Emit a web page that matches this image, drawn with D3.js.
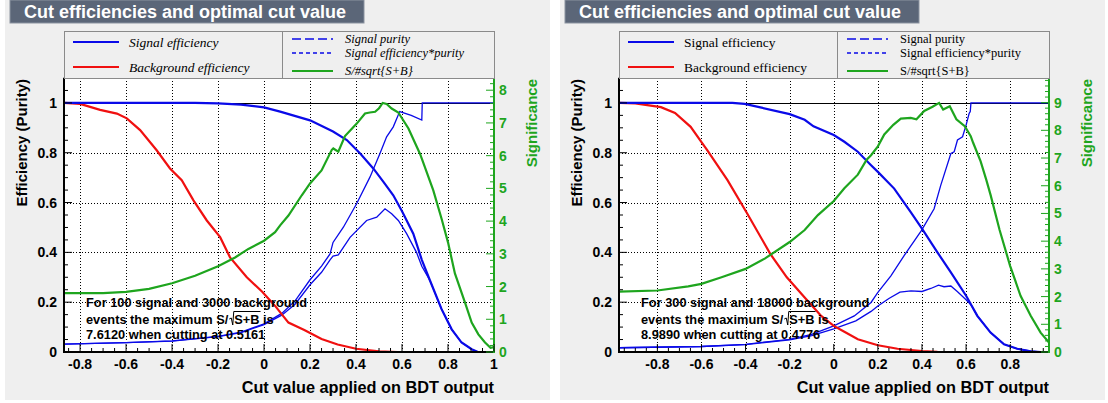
<!DOCTYPE html>
<html><head><meta charset="utf-8">
<script src="https://cdn.jsdelivr.net/npm/d3@7"></script>
<style>body{margin:0;background:#fff;} svg{display:block;}</style>
</head><body>
<svg id="c" width="1108" height="403"></svg>
<script>
// ---------- texts ----------
const titleText = "Cut efficiencies and optimal cut value";
const xTitle = "Cut value applied on BDT output";
const yTitle = "Efficiency (Purity)";
const y2Title = "Significance";
const legendLeftLabels = ["Signal efficiency", "Background efficiency"];
const legendRightLabels = ["Signal purity", "Signal efficiency*purity", "S/#sqrt{S+B}"];

// ---------- ticks ----------
const leftXTicks = [-0.8, -0.6, -0.4, -0.2, 0, 0.2, 0.4, 0.6, 0.8, 1];
const rightXTicks = [-0.8, -0.6, -0.4, -0.2, 0, 0.2, 0.4, 0.6, 0.8];
const yTicks = [0, 0.2, 0.4, 0.6, 0.8, 1];
const leftSigTicks = [0, 1, 2, 3, 4, 5, 6, 7, 8];
const rightSigTicks = [0, 1, 2, 3, 4, 5, 6, 7, 8, 9];

// ---------- left panel data (100 signal, 3000 background) ----------
const leftXRange = [-0.87, 1.0];
const leftSigMax = 7.612;
const leftInfo = ["For 100 signal and 3000 background", "events the maximum S/", "S+B is", "7.6120 when cutting at 0.5161"];
const leftSignalEff = [[-0.87,1],[-0.3,1],[-0.2,0.998],[-0.1,0.993],[0,0.982],[0.07,0.965],[0.2,0.93],[0.3,0.885],[0.36,0.851],[0.42,0.795],[0.475,0.737],[0.52,0.682],[0.562,0.629],[0.6,0.565],[0.649,0.475],[0.686,0.37],[0.722,0.286],[0.772,0.172],[0.816,0.091],[0.859,0.038],[0.903,0.011],[0.93,0],[0.957,0]];
const leftBkgEff = [[-0.87,1],[-0.8,0.996],[-0.713,0.972],[-0.64,0.957],[-0.597,0.938],[-0.539,0.891],[-0.467,0.81],[-0.409,0.737],[-0.358,0.69],[-0.307,0.609],[-0.249,0.528],[-0.191,0.461],[-0.148,0.38],[-0.075,0.3],[-0.008,0.242],[0.048,0.185],[0.106,0.118],[0.175,0.088],[0.25,0.052],[0.32,0.03],[0.4,0.013],[0.5,0.003],[0.58,0],[0.686,0]];
const leftPurity = [[-0.87,0.032],[-0.6,0.038],[-0.4,0.045],[-0.2,0.063],[-0.1,0.08],[0,0.113],[0.077,0.155],[0.135,0.205],[0.2,0.29],[0.25,0.345],[0.287,0.394],[0.3,0.44],[0.345,0.501],[0.403,0.596],[0.461,0.703],[0.504,0.797],[0.533,0.864],[0.562,0.904],[0.584,0.952],[0.59,0.965],[0.64,0.95],[0.686,0.931],[0.688,1],[1,1]];
const leftEffPurity = [[-0.87,0.032],[-0.6,0.038],[-0.4,0.044],[-0.2,0.062],[-0.1,0.078],[0,0.11],[0.077,0.148],[0.135,0.192],[0.2,0.27],[0.25,0.32],[0.287,0.37],[0.3,0.385],[0.323,0.39],[0.374,0.46],[0.446,0.528],[0.49,0.541],[0.526,0.575],[0.555,0.555],[0.584,0.528],[0.62,0.475],[0.663,0.4],[0.686,0.344],[0.722,0.286],[0.772,0.172],[0.816,0.091],[0.859,0.038],[0.903,0.011],[0.93,0]];
const leftSignificance = [[-0.87,1.80],[-0.7,1.80],[-0.6,1.84],[-0.5,1.93],[-0.4,2.10],[-0.3,2.33],[-0.2,2.62],[-0.126,2.89],[-0.068,3.15],[0,3.40],[0.048,3.66],[0.07,3.87],[0.106,4.17],[0.164,4.79],[0.2,5.15],[0.25,5.55],[0.294,6.17],[0.301,6.22],[0.323,6.12],[0.352,6.6],[0.403,6.98],[0.439,7.29],[0.46,7.32],[0.483,7.34],[0.5,7.45],[0.516,7.61],[0.533,7.58],[0.555,7.44],[0.584,7.32],[0.628,6.83],[0.678,6.06],[0.686,5.91],[0.736,4.94],[0.772,4.07],[0.8,3.35],[0.83,2.4],[0.874,1.51],[0.903,0.90],[0.932,0.54],[0.961,0.29],[0.985,0.13],[1.0,0.15]];

// ---------- right panel data (300 signal, 18000 background) ----------
const rightXRange = [-0.974, 0.976];
const rightSigMax = 8.989;
const rightInfo = ["For 300 signal and 18000 background", "events the maximum S/", "S+B is", "8.9890 when cutting at 0.4776"];
const rightSignalEff = [[-0.974,1],[-0.46,1],[-0.404,0.996],[-0.333,0.982],[-0.2,0.955],[-0.132,0.932],[-0.092,0.906],[0,0.871],[0.048,0.844],[0.109,0.804],[0.169,0.75],[0.2,0.723],[0.274,0.656],[0.349,0.562],[0.4,0.495],[0.47,0.40],[0.531,0.32],[0.6,0.226],[0.651,0.145],[0.711,0.078],[0.772,0.031],[0.832,0.013],[0.893,0.003],[0.938,0],[0.955,0]];
const rightBkgEff = [[-0.974,1],[-0.9,0.998],[-0.784,0.983],[-0.72,0.96],[-0.649,0.904],[-0.6,0.843],[-0.574,0.81],[-0.482,0.69],[-0.392,0.555],[-0.288,0.394],[-0.213,0.30],[-0.132,0.219],[-0.057,0.145],[0,0.105],[0.048,0.081],[0.109,0.051],[0.2,0.027],[0.289,0.013],[0.4,0.004],[0.47,0.001],[0.6,0]];
const rightPurity = [[-0.974,0.017],[-0.6,0.022],[-0.4,0.031],[-0.2,0.051],[-0.1,0.071],[0,0.105],[0.093,0.145],[0.169,0.199],[0.2,0.239],[0.259,0.306],[0.319,0.387],[0.398,0.488],[0.455,0.575],[0.485,0.669],[0.531,0.797],[0.546,0.804],[0.561,0.851],[0.584,0.864],[0.6,0.911],[0.614,0.958],[0.619,0.965],[0.622,1],[0.976,1]];
const rightEffPurity = [[-0.974,0.017],[-0.6,0.022],[-0.4,0.03],[-0.2,0.049],[-0.1,0.066],[0,0.093],[0.1,0.125],[0.169,0.163],[0.2,0.185],[0.25,0.215],[0.3,0.24],[0.35,0.245],[0.4,0.243],[0.44,0.255],[0.475,0.268],[0.5,0.262],[0.531,0.265],[0.56,0.243],[0.6,0.21],[0.622,0.19],[0.651,0.145],[0.711,0.078],[0.772,0.031],[0.832,0.013],[0.893,0.003],[0.938,0]];
const rightSignificance = [[-0.974,2.18],[-0.8,2.22],[-0.66,2.37],[-0.6,2.46],[-0.509,2.70],[-0.4,3.0],[-0.313,3.37],[-0.2,3.97],[-0.132,4.40],[-0.072,4.94],[0,5.45],[0.048,5.91],[0.109,6.40],[0.149,6.94],[0.169,7.1],[0.2,7.42],[0.229,7.85],[0.27,8.2],[0.304,8.42],[0.349,8.45],[0.375,8.40],[0.41,8.70],[0.448,8.85],[0.4776,8.99],[0.496,8.75],[0.526,8.87],[0.556,8.40],[0.594,8.15],[0.621,7.79],[0.632,7.55],[0.666,6.88],[0.692,6.2],[0.711,5.67],[0.752,4.4],[0.8,3.1],[0.847,2.03],[0.893,1.31],[0.938,0.70],[0.976,0.34]];

// ---------- style ----------
const COL = { blue: "#0a0ae8", red: "#f01010", green: "#1ea51e", panel: "#efefef", title: "#5b6678" };
const SANS = "'Liberation Sans', Arial, Helvetica, sans-serif";
const SERIF = "'Liberation Serif', 'Times New Roman', serif";

const svg = d3.select("#c");

function drawPanel(cfg) {
  const px = cfg.px;
  const g = svg.append("g");
  g.append("rect").attr("x", px).attr("y", 0).attr("width", 545).attr("height", 400).attr("fill", COL.panel);

  // title box
  g.append("rect").attr("x", px + 5).attr("y", 0).attr("width", 354).attr("height", 23)
    .attr("fill", COL.title).attr("stroke", "#8b93a0").attr("stroke-width", 1);
  g.append("text").attr("x", px + 19).attr("y", 18).attr("fill", "#fff")
    .attr("font-family", SANS).attr("font-weight", "bold").attr("font-size", 18).text(titleText);

  const fx0 = px + 59, fx1 = px + 489, fy0 = 78, fy1 = 352;
  const x = d3.scaleLinear().domain(cfg.xRange).range([fx0, fx1]);
  const y = d3.scaleLinear().domain([0, 1.1]).range([fy1, fy0]);
  const y2 = d3.scaleLinear().domain([0, 1.1 * cfg.sigMax]).range([fy1, fy0]);

  // frame
  g.append("rect").attr("x", fx0).attr("y", fy0).attr("width", fx1 - fx0).attr("height", fy1 - fy0)
    .attr("fill", "#fff").attr("stroke", "#000").attr("stroke-width", 1);

  // grid
  const gridStyle = sel => sel.attr("stroke", "#000").attr("stroke-width", 1).attr("stroke-dasharray", "1,2");
  g.append("g").selectAll("line").data(cfg.xTicks.filter(t => x(t) > fx0 + 2 && x(t) < fx1 - 2)).join("line")
    .attr("x1", d => Math.round(x(d)) + 0.5).attr("x2", d => Math.round(x(d)) + 0.5).attr("y1", fy0).attr("y2", fy1).call(gridStyle);
  g.append("g").selectAll("line").data(yTicks.filter(t => t > 0 && t < 1)).join("line")
    .attr("y1", d => Math.round(y(d)) + 0.5).attr("y2", d => Math.round(y(d)) + 0.5).attr("x1", fx0).attr("x2", fx1).call(gridStyle);
  // line at 1
  g.append("line").attr("x1", fx0).attr("x2", fx1).attr("y1", Math.round(y(1)) + 0.5).attr("y2", Math.round(y(1)) + 0.5)
    .attr("stroke", "#000").attr("stroke-width", 1);

  // curves
  const clipId = "clip" + px;
  svg.append("clipPath").attr("id", clipId).append("rect").attr("x", fx0).attr("y", fy0).attr("width", fx1 - fx0).attr("height", fy1 - fy0);
  const cg = g.append("g").attr("clip-path", `url(#${clipId})`);
  const ln = d3.line().x(d => x(d[0])).y(d => y(d[1]));
  const ln2 = d3.line().x(d => x(d[0])).y(d => y2(d[1]));
  cg.append("path").attr("d", ln(cfg.purity)).attr("fill", "none").attr("stroke", COL.blue).attr("stroke-width", 1.3);
  cg.append("path").attr("d", ln(cfg.effPurity)).attr("fill", "none").attr("stroke", COL.blue).attr("stroke-width", 1.3);
  cg.append("path").attr("d", ln(cfg.bkgEff)).attr("fill", "none").attr("stroke", COL.red).attr("stroke-width", 2.2);
  cg.append("path").attr("d", ln(cfg.signalEff)).attr("fill", "none").attr("stroke", COL.blue).attr("stroke-width", 2.2);
  cg.append("path").attr("d", ln2(cfg.significance)).attr("fill", "none").attr("stroke", COL.green).attr("stroke-width", 2.2);

  // axes lines
  g.append("line").attr("x1", fx0).attr("x2", fx0).attr("y1", fy0).attr("y2", fy1 + 1).attr("stroke", "#000").attr("stroke-width", 2);
  g.append("line").attr("x1", fx0 - 1).attr("x2", fx1).attr("y1", fy1).attr("y2", fy1).attr("stroke", "#000").attr("stroke-width", 2);
  g.append("line").attr("x1", fx1).attr("x2", fx1).attr("y1", fy0).attr("y2", fy1 + 1).attr("stroke", COL.green).attr("stroke-width", 2);

  // ticks: x
  const xMinor = d3.range(-20, 21).map(i => i * 0.05).filter(v => v >= cfg.xRange[0] && v <= cfg.xRange[1]);
  g.append("g").selectAll("line").data(xMinor).join("line")
    .attr("x1", d => x(d)).attr("x2", d => x(d)).attr("y1", fy1)
    .attr("y2", d => fy1 - (Math.abs(Math.round(d * 5) - d * 5) < 1e-6 ? 8 : 4))
    .attr("stroke", "#000").attr("stroke-width", 1);
  // ticks: y
  const yMinor = d3.range(0, 23).map(i => i * 0.05);
  g.append("g").selectAll("line").data(yMinor).join("line")
    .attr("y1", d => y(d)).attr("y2", d => y(d)).attr("x1", fx0)
    .attr("x2", d => fx0 + (Math.abs(Math.round(d * 5) - d * 5) < 1e-6 ? 8 : 4))
    .attr("stroke", "#000").attr("stroke-width", 1);
  // ticks: y2
  const y2Minor = d3.range(0, Math.floor(1.1 * cfg.sigMax / 0.2) + 1).map(i => i * 0.2);
  g.append("g").selectAll("line").data(y2Minor).join("line")
    .attr("y1", d => y2(d)).attr("y2", d => y2(d)).attr("x2", fx1)
    .attr("x1", d => fx1 - (Math.abs(Math.round(d) - d) < 1e-6 ? 8 : 4))
    .attr("stroke", COL.green).attr("stroke-width", 1);

  // tick labels
  g.append("g").selectAll("text").data(cfg.xTicks).join("text")
    .attr("x", d => x(d)).attr("y", fy1 + 17).attr("text-anchor", "middle")
    .attr("font-family", SANS).attr("font-weight", "bold").attr("font-size", 14).attr("fill", "#000")
    .text(d => String(+d.toFixed(1)));
  g.append("g").selectAll("text").data(yTicks).join("text")
    .attr("x", fx0 - 7).attr("y", d => y(d) + 5).attr("text-anchor", "end")
    .attr("font-family", SANS).attr("font-weight", "bold").attr("font-size", 14).attr("fill", "#000")
    .text(d => String(+d.toFixed(1)));
  g.append("g").selectAll("text").data(cfg.sigTicks).join("text")
    .attr("x", fx1 + 5).attr("y", d => y2(d) + 5).attr("text-anchor", "start")
    .attr("font-family", SANS).attr("font-weight", "bold").attr("font-size", 14).attr("fill", COL.green)
    .text(d => String(d));

  // axis titles
  g.append("text").attr("x", fx1).attr("y", 393).attr("text-anchor", "end")
    .attr("font-family", SANS).attr("font-weight", "bold").attr("font-size", 16.3).text(xTitle);
  g.append("text").attr("transform", `translate(${px + 17},${fy0 + 1}) rotate(-90)`).attr("text-anchor", "end")
    .attr("dy", "0.35em")
    .attr("font-family", SANS).attr("font-weight", "bold").attr("font-size", 15).text(yTitle);
  g.append("text").attr("transform", `translate(${px + 527},${fy0 + 1}) rotate(-90)`).attr("text-anchor", "end")
    .attr("dy", "0.35em").attr("fill", COL.green)
    .attr("font-family", SANS).attr("font-weight", "bold").attr("font-size", 15).text(y2Title);

  // legend
  const ly0 = 31;
  const lxm = px + 277;
  g.append("rect").attr("x", fx0 + 0.5).attr("y", ly0 + 0.5).attr("width", lxm - fx0).attr("height", fy0 - ly0)
    .attr("fill", COL.panel).attr("stroke", "#8a8a8a").attr("stroke-width", 1);
  g.append("rect").attr("x", lxm + 0.5).attr("y", ly0 + 0.5).attr("width", fx1 - lxm).attr("height", fy0 - ly0)
    .attr("fill", COL.panel).attr("stroke", "#8a8a8a").attr("stroke-width", 1);
  const style = cfg.italic ? "italic" : "normal";
  const leftEntries = [
    { label: legendLeftLabels[0], y: 42, color: COL.blue, dash: null, w: 2.2 },
    { label: legendLeftLabels[1], y: 67, color: COL.red, dash: null, w: 2.2 }];
  leftEntries.forEach(e => {
    g.append("line").attr("x1", px + 68).attr("x2", px + 114).attr("y1", e.y).attr("y2", e.y)
      .attr("stroke", e.color).attr("stroke-width", e.w);
    g.append("text").attr("x", px + 124).attr("y", e.y + 4.5).attr("font-family", SERIF)
      .attr("font-style", style).attr("font-size", 13.5).text(e.label);
  });
  const rightEntries = [
    { label: legendRightLabels[0], y: 39, color: COL.blue, dash: "9,4", w: 1.5 },
    { label: legendRightLabels[1], y: 53, color: COL.blue, dash: "4,3", w: 1.5 },
    { label: legendRightLabels[2], y: 71, color: COL.green, dash: null, w: 2.2 }];
  rightEntries.forEach(e => {
    g.append("line").attr("x1", px + 287).attr("x2", px + 328).attr("y1", e.y).attr("y2", e.y)
      .attr("stroke", e.color).attr("stroke-width", e.w).attr("stroke-dasharray", e.dash);
    g.append("text").attr("x", px + 340).attr("y", e.y + 4).attr("font-family", SERIF)
      .attr("font-style", style).attr("font-size", 12.5).text(e.label);
  });

  // info text
  const ix = fx0 + 22;
  const infoStyle = sel => sel.attr("font-family", SANS).attr("font-weight", "bold").attr("font-size", 12.8).attr("fill", "#000");
  g.append("text").attr("x", ix).attr("y", 307).call(infoStyle).text(cfg.info[0]);
  const t2 = g.append("text").attr("x", ix).attr("y", 324).call(infoStyle).text(cfg.info[1]);
  const w2 = t2.node().getComputedTextLength();
  const rx = ix + w2 + 1;
  const t3 = g.append("text").attr("x", rx + 5).attr("y", 324).call(infoStyle).text(cfg.info[2]);
  const wSB = t3.node().getSubStringLength(0, 3);
  g.append("path").attr("d", `M${rx},${319} L${rx + 2},${318} L${rx + 3.5},${325} L${rx + 4.5},${311.5} L${rx + 5 + wSB + 1},${311.5}`)
    .attr("fill", "none").attr("stroke", "#000").attr("stroke-width", 1);
  g.append("text").attr("x", ix).attr("y", 339).call(infoStyle).text(cfg.info[3]);
}

drawPanel({ px: 5, xRange: leftXRange, xTicks: leftXTicks, sigMax: leftSigMax, sigTicks: leftSigTicks, italic: true,
  info: leftInfo, signalEff: leftSignalEff, bkgEff: leftBkgEff, purity: leftPurity, effPurity: leftEffPurity, significance: leftSignificance });
drawPanel({ px: 560, xRange: rightXRange, xTicks: rightXTicks, sigMax: rightSigMax, sigTicks: rightSigTicks, italic: false,
  info: rightInfo, signalEff: rightSignalEff, bkgEff: rightBkgEff, purity: rightPurity, effPurity: rightEffPurity, significance: rightSignificance });
</script>
</body></html>
